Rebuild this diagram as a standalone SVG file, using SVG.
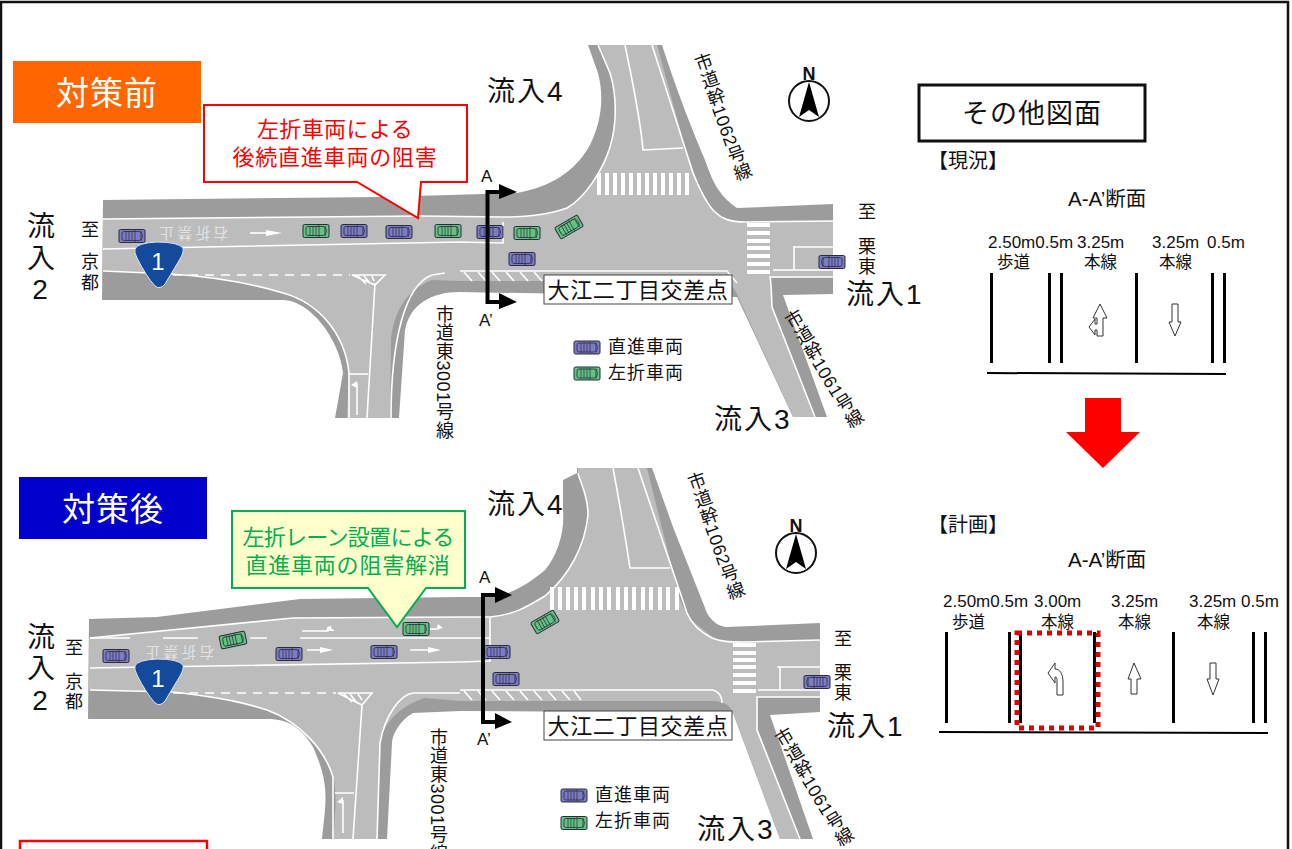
<svg xmlns="http://www.w3.org/2000/svg" width="1292" height="849" viewBox="0 0 1292 849">
<style>
text{font-family:"Liberation Sans","Noto Sans CJK JP",sans-serif;fill:#111}
.c{text-anchor:middle}
.flow{font-size:28px;letter-spacing:2px}
.place{font-size:18px}
.road{font-size:18px;letter-spacing:.5px;writing-mode:vertical-rl}
.name{font-size:22px;letter-spacing:.6px;text-anchor:middle}
.leg{font-size:18px;letter-spacing:1px}
.sec{font-size:17px}
.dim{font-size:17px}
.dim2{font-size:16.5px}
.aa{font-size:20.5px}
.kk{font-size:20px}
.dark{fill:#9c9c9c}
.light{fill:#bcbcbc}
.w{fill:none;stroke:#fff;stroke-width:1.6}
.wd{fill:none;stroke:#fff;stroke-width:1.6;stroke-dasharray:9 7}
.st{fill:none;stroke:#fff;stroke-width:4}
.p{fill:#7b7bc6}
.g{fill:#62c282}
.lane{stroke:#000;stroke-width:3;fill:none}
.ar{fill:#fff;stroke:#333;stroke-width:1}
.sa{fill:#000}
.sl{stroke:#000;stroke-width:4;fill:none}
.ban{font-size:33px;fill:#fff;letter-spacing:1px;text-anchor:middle}
.wm{font-size:14.5px;fill:#e2e2e2;letter-spacing:3.5px;text-anchor:middle}
</style>
<defs>
<g id="car"><rect x="-13" y="-6.500" width="26" height="13" rx="1.500" stroke="#2b2b3a" stroke-width="1"/><rect x="-10" y="-4.500" width="19" height="9" rx="2" fill="none" stroke="#2b2b3a" stroke-width=".8"/><path d="M-6-5V5M-3-5V5M0-5V5M3-6V6M9-5Q12 0 9 5" stroke="#2b2b3a" stroke-width=".7" fill="none"/></g>
<g id="compass"><circle r="20" fill="#fff" stroke="#111" stroke-width="2"/><path d="M0-19L-10 16L0 9L10 16Z" fill="#000"/></g>
<path id="shield" d="M135 249Q137 243 157 242Q178 242 183 248Q184 252 180 259L165 284Q160 290 155 286Q146 276 137 258Q134 252 135 249Z" fill="#134a9c" stroke="#dfe6f2" stroke-width="1"/>
</defs>
<rect x="1" y="2" width="1287" height="870" fill="#fff" stroke="#111" stroke-width="2.500"/>

<g id="plan-before">
<path class="dark" d="M103 200L380 197L517 193C550 187 575 172 590 145C600 125 605 100 598 73L588 45L662 45C675 85 690 125 705 160C712 180 718 195 737 208L833 204V294L783 295L827 417L793 417L737 297L460 292C430 292 410 305 405 330L399 418L335 418L343 373C340 340 310 300 283 300L102 300Z"/>
<path class="light" d="M103 219L420 216L503 217C530 217 553 213 567 208C585 198 603 170 610 147C617 125 617 95 610 73L598 45L657 45L683 140C692 170 700 190 707 200C715 215 725 221 745 222L833 221V277L770 278L772 307L815 417L793 417L735 290C730 282 720 281 700 281L460 281L432 280C405 290 393 315 391 340L390 418L347 418L349 373C345 335 320 300 283 293C250 283 215 277 173 273L103 271Z"/>
<path class="w" d="M103 219L420 216L503 217C530 217 553 213 567 208C585 198 603 170 610 147C617 125 617 95 610 73L598 45"/>
<path class="w" d="M103 249L460 242L503 243V222M625 45C632 80 640 115 643 150L683 148M652 45L693 173C700 190 707 205 715 212C722 219 730 222 745 222L833 221"/>
<path class="w" d="M103 271L173 274C215 277 250 283 283 293C320 303 345 335 349 373V418M348 374H368M375 283L367 418M391 418C391 340 405 285 432 275L445 273"/>
<path class="wd" d="M173 275H350"/>
<path class="w" d="M352 275H385L375 285ZM358 276L366 284M364 276L370 283M372 276L374 281"/>
<path class="w" d="M460 271H727L737 283"/>
<path class="w" d="M464 272L472 281M478 272L486 281M492 272L500 281M506 272L514 281M520 272L528 281M534 272L542 281"/>
<path class="w" d="M793 247H833M794 247V270M773 270H833M833 277H770Q771 280 772 307L815 417"/>
<path class="w" stroke-width="1.300" d="M250 233H268"/><path fill="#fff" d="M266 230L282 233L266 236Z"/>
<path class="w" d="M357 383V415"/><path fill="#fff" d="M357 381L351 385L357 388Z"/>
<path class="st" d="M599 173V195M607 173V195M615 173V195M623 173V195M631 173V195M639 173V195M647 173V195M655 173V195M663 173V195M671 173V195M679 173V195M687 173V195"/>
<path class="st" d="M747 225H770M747 233H770M747 241H770M747 248H770M747 256H770M747 264H770M747 272H770"/>
<text class="wm" transform="rotate(180 192 233)" x="192" y="238">右折禁止</text>
<use href="#shield"/>
<text x="158" y="270" class="c" style="font-size:24px;fill:#fff">1</text>
<use href="#car" class="p" transform="translate(132 236)"/>
<use href="#car" class="g" transform="translate(316 231)"/>
<use href="#car" class="p" transform="translate(354 231)"/>
<use href="#car" class="p" transform="translate(399 232)"/>
<use href="#car" class="g" transform="translate(448 231)"/>
<use href="#car" class="p" transform="translate(490 232)"/>
<use href="#car" class="g" transform="translate(527 233)"/>
<use href="#car" class="g" transform="translate(569 227) rotate(-30)"/>
<use href="#car" class="p" transform="translate(522 259)"/>
<use href="#car" class="p" transform="translate(832 262) scale(-1 1)"/>
</g>

<g id="label-before"><rect x="13" y="61" width="188" height="62" fill="#ff6600"/><text class="ban" x="107" y="105">対策前</text></g>
<g id="callout-before"><path d="M204 105H467V182H421L418 218L357 182H204Z" fill="#fff" stroke="#f00" stroke-width="2"/>
<text x="335" y="137" class="c" style="font-size:22px;fill:#f00;letter-spacing:.4px">左折車両による</text>
<text x="335" y="165" class="c" style="font-size:22px;fill:#f00;letter-spacing:.8px">後続直進車両の阻害</text></g>
<g id="section-before"><path class="sl" d="M500 192H487.500V302H500"/><path class="sa" d="M499 184L517 192L499 199ZM499 293L517 302L499 309Z"/>
<text class="sec" x="481" y="182">A</text><text class="sec" x="479" y="326">A’</text></g>
<g id="name-before"><rect x="544" y="275" width="188" height="29" fill="#fff" stroke="#444" stroke-width="1"/><text class="name" x="638" y="298">大江二丁目交差点</text></g>
<g id="legend-before"><use href="#car" class="p" transform="translate(587 347.500)"/><text class="leg" x="608" y="353">直進車両</text>
<use href="#car" class="g" transform="translate(587 373.500)"/><text class="leg" x="608" y="379">左折車両</text></g>
<g id="labels-before">
<text class="flow" x="487" y="101">流入4</text><text class="flow" x="846" y="304">流入1</text><text class="flow" x="714" y="429">流入3</text>
<text class="flow c" x="42" y="236">流</text><text class="flow c" x="42" y="268">入</text><text class="flow c" x="41" y="299">2</text>
<text class="place c" x="90" y="236">至</text><text class="place c" x="90" y="268">京</text><text class="place c" x="90" y="289">都</text>
<text class="place c" x="867" y="218">至</text><text class="place c" x="867" y="253">栗</text><text class="place c" x="867" y="273">東</text>
<text class="road" x="443" y="305">市道東3001号線</text>
<text class="road" transform="rotate(-19.500 699 54)" x="699" y="54">市道幹1062号線</text>
<text class="road" transform="rotate(-31 788 312)" x="788" y="312">市道幹1061号線</text>
</g>
<g id="north-before"><use href="#compass" transform="translate(809 101)"/><text x="809" y="80" class="c" style="font-size:18px;font-weight:bold">N</text></g>

<g id="plan-after">
<path class="dark" d="M89 619L157 617L300 599L460 597L493 597C510 595 530 583 545 570C558 555 565 530 563 510L563 480L577 473V468L652 468L673 527L707 613C712 622 720 627 727 627L820 623V712L770 715L813 839L780 839L733 713L460 711L413 713C400 720 392 735 392 743L387 839L322 839C326 800 330 785 313 747C300 725 285 719 267 719L88 719Z"/>
<path class="light" d="M89 638L293 618L460 617L490 617C515 615 530 605 545 596C570 575 585 545 588 515C588 495 581 485 578 473V468L647 468L680 600C685 612 692 622 700 627C712 638 720 642 730 642L820 640V697L757 697L758 730L800 839L780 839L733 713C730 705 725 702 715 701L460 701L425 698C400 705 382 725 380 743L377 839L333 839C336 810 337 790 333 777C328 760 320 750 313 743C295 725 280 715 267 710C245 703 225 698 200 695L173 692L89 690Z"/>
<path class="w" d="M90 638L293 618L460 617L490 617C515 615 530 605 545 596C570 575 585 545 588 515C588 495 581 485 578 473"/>
<path class="w" d="M90 668L460 662L490 661V618M613 468C620 505 625 535 630 568H670M638 468L687 613C692 625 700 632 712 638C720 641 725 642 745 642L820 640"/>
<path class="w" d="M90 690L173 692C225 698 245 703 267 710C300 722 325 750 333 777V839M335 793H354M362 705L353 839M377 839L380 743C385 715 400 695 413 693H460"/>
<path class="w" d="M90 638H130M163 638H198M250 638H267M300 638H490"/><path class="wd" d="M173 693H336"/>
<path class="w" d="M338 693H372L362 705ZM344 694L352 702M350 694L357 703M358 694L362 700"/>
<path class="w" d="M460 690H713C720 692 722 697 722 703M464 691L472 700M478 691L486 700M492 691L500 700M506 691L514 700M520 691L528 700M534 691L542 700M548 691L556 700M562 691L570 700M574 691L581 700"/>
<path class="w" d="M777 667H820M780 667V690M758 690H820M820 697H757V730L800 839"/>
<path class="w" d="M302 631H328L331 626M430 629H436M307 650H322M410 650H430M343 800V833"/>
<path fill="#fff" d="M328 626L335 631H326ZM438 624L443 628L436 630ZM320 647L333 650L320 653ZM428 647L441 650L428 653ZM343 797L337 802L343 804Z"/>
<path class="st" d="M552 587V610M560 587V610M568 587V610M576 587V610M584 587V610M593 587V610M601 587V610M609 587V610M618 587V610M626 587V610M634 587V610M643 587V610M651 587V610M660 587V610M668 587V610M677 587V610"/>
<path class="st" d="M733 645H756M733 653H756M733 660H756M733 667H756M733 675H756M733 683H756M733 691H756"/>
<text class="wm" transform="rotate(180 178 652)" x="178" y="657">右折禁止</text>
<use href="#shield" transform="translate(0 417)"/>
<text x="158" y="687" class="c" style="font-size:24px;fill:#fff">1</text>
<use href="#car" class="p" transform="translate(116 656)"/>
<use href="#car" class="g" transform="translate(233 640) rotate(-12)"/>
<use href="#car" class="p" transform="translate(289 654)"/>
<use href="#car" class="p" transform="translate(384 652)"/>
<use href="#car" class="g" transform="translate(416 629)"/>
<use href="#car" class="p" transform="translate(497 652)"/>
<use href="#car" class="p" transform="translate(506 679)"/>
<use href="#car" class="g" transform="translate(545 622) rotate(-30)"/>
<use href="#car" class="p" transform="translate(817 682) scale(-1 1)"/>
</g>

<g id="label-after"><rect x="19" y="477" width="188" height="62" fill="#0000cc"/><text class="ban" x="113" y="521">対策後</text></g>
<g id="callout-after"><path d="M232 511H465V588H426L397 627L368 588H232Z" fill="#ffffcc" stroke="#00b050" stroke-width="2"/>
<text x="348" y="545" class="c" style="font-size:22px;fill:#00b050;letter-spacing:-.7px">左折レーン設置による</text>
<text x="348" y="573" class="c" style="font-size:22px;fill:#00b050;letter-spacing:.8px">直進車両の阻害解消</text></g>
<g id="section-after"><path class="sl" d="M495 595H483V722H495"/><path class="sa" d="M495 587L512 595L495 603ZM495 713L512 722L495 729Z"/>
<text class="sec" x="479" y="583">A</text><text class="sec" x="477" y="745">A’</text></g>
<g id="name-after"><rect x="544" y="711" width="188" height="29" fill="#fff" stroke="#444" stroke-width="1"/><text class="name" x="638" y="734">大江二丁目交差点</text></g>
<g id="legend-after"><use href="#car" class="p" transform="translate(574 795.500)"/><text class="leg" x="595" y="801">直進車両</text>
<use href="#car" class="g" transform="translate(574 823)"/><text class="leg" x="595" y="827">左折車両</text></g>
<g id="labels-after">
<text class="flow" x="487" y="514">流入4</text><text class="flow" x="827" y="736">流入1</text><text class="flow" x="697" y="839">流入3</text>
<text class="flow c" x="42" y="647">流</text><text class="flow c" x="42" y="678">入</text><text class="flow c" x="41" y="710">2</text>
<text class="place c" x="74" y="654">至</text><text class="place c" x="74" y="688">京</text><text class="place c" x="74" y="708">都</text>
<text class="place c" x="843" y="645">至</text><text class="place c" x="843" y="679">栗</text><text class="place c" x="843" y="699">東</text>
<text class="road" x="437" y="728">市道東3001号線</text>
<text class="road" transform="rotate(-19.500 692 473)" x="692" y="473">市道幹1062号線</text>
<text class="road" transform="rotate(-31 778 730)" x="778" y="730">市道幹1061号線</text>
</g>
<g id="north-after"><use href="#compass" transform="translate(796 553)"/><text x="796" y="532" class="c" style="font-size:18px;font-weight:bold">N</text></g>
<g id="box-bottom"><rect x="20" y="841" width="187" height="40" fill="#fff" stroke="#f00" stroke-width="2.500"/></g>

<g id="other-title"><rect x="919" y="85" width="226" height="56" fill="#fff" stroke="#111" stroke-width="3"/><text x="1032" y="123" class="c" style="font-size:27px;letter-spacing:1px">その他図面</text></g>
<g id="section-current">
<text class="kk" x="928" y="168">【現況】</text>
<text class="aa" x="1068" y="206">A-A’断面</text>
<text class="dim" x="988" y="248">2.50m0.5m</text><text class="dim" x="1077" y="248">3.25m</text><text class="dim" x="1152" y="248">3.25m</text><text class="dim" x="1207" y="248">0.5m</text>
<text class="dim2" x="997" y="268">歩道</text><text class="dim2" x="1084" y="268">本線</text><text class="dim2" x="1159" y="268">本線</text>
<path class="lane" d="M991.500 273V363M1049.500 273V363M1061.500 273V363M1136.500 273V363M1212.500 273V363M1224.500 273V363"/>
<path d="M987 373L1226 374" stroke="#000" stroke-width="2"/>
<path class="ar" d="M1100 304L1107 318H1103V336H1097V330H1095V335L1089 327L1095 319V324H1097V318H1093Z"/>
<path class="ar" d="M1172 304H1178V322H1181L1175 336L1169 322H1172Z"/>
</g>
<path id="change-arrow" d="M1085 398H1121V432H1140L1103 468L1066 432H1085Z" fill="#f00"/>
<g id="section-plan">
<text class="kk" x="928" y="532">【計画】</text>
<text class="aa" x="1068" y="567">A-A’断面</text>
<text class="dim" x="943" y="607">2.50m0.5m</text><text class="dim" x="1034" y="607">3.00m</text><text class="dim" x="1111" y="607">3.25m</text><text class="dim" x="1189" y="607">3.25m</text><text class="dim" x="1241" y="607">0.5m</text>
<text class="dim2" x="952" y="628">歩道</text><text class="dim2" x="1041" y="628">本線</text><text class="dim2" x="1118" y="628">本線</text><text class="dim2" x="1197" y="628">本線</text>
<path class="lane" d="M946.500 632V723M1009.500 632V723M1020.500 632V723M1094.500 632V723M1173.500 632V723M1253.500 632V723M1265.500 632V723"/>
<path d="M939 732L1268 733" stroke="#000" stroke-width="2"/>
<rect x="1017" y="633" width="81" height="95" fill="none" stroke="#e00000" stroke-width="5" stroke-dasharray="5 5"/>
<path class="ar" d="M1048 673L1055 663V669C1060 669 1063 674 1063 682V695H1057V682C1057 678 1057 677 1055 677V683Z"/>
<path class="ar" d="M1134 663L1141 679H1137V694H1131V679H1128Z"/>
<path class="ar" d="M1210 663H1216V679H1219L1213 695L1207 679H1210Z"/>
</g>
</svg>
